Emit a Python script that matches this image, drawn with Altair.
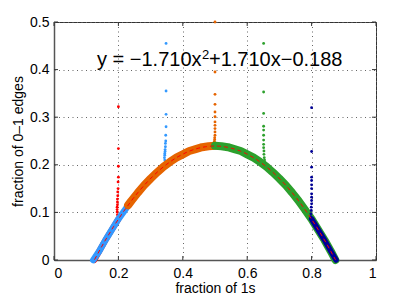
import altair as alt
import pandas as pd

# ---- data ----
X_TICKS = [0, 0.2, 0.4, 0.6, 0.8, 1]
Y_TICKS = [0, 0.1, 0.2, 0.3, 0.4, 0.5]
EQ_PARTS = ["y = \u22121.710x", "2", "+1.710x\u22120.188"]

SERIES = ["red", "lightblue", "orange", "green", "darkblue"]
COLORS = ["#ff0000", "#3399ff", "#e66400", "#2ca02c", "#000096"]
BAND_WIDTH = [6, 6.5, 8, 8, 5.5]

# dense bands of points lying along the curve
band_x = {
    "red": [0.125, 0.14, 0.16, 0.18, 0.20],
    "lightblue": [0.122, 0.14, 0.16, 0.18, 0.20, 0.22, 0.24, 0.26, 0.28, 0.30, 0.32, 0.34, 0.35],
    "orange": [0.23, 0.24, 0.26, 0.28, 0.30, 0.32, 0.34, 0.36, 0.38, 0.40, 0.42, 0.44, 0.46, 0.48, 0.50],
    "green": [0.50, 0.52, 0.54, 0.56, 0.58, 0.60, 0.62, 0.64, 0.66, 0.68, 0.70, 0.72, 0.74,
              0.76, 0.78, 0.80, 0.82, 0.84, 0.86, 0.874],
    "darkblue": [0.80, 0.82, 0.84, 0.86, 0.876],
}
band_y = {
    "red": [0.0, 0.018, 0.042, 0.064, 0.086],
    "lightblue": [0.0, 0.018, 0.042, 0.064, 0.086, 0.105, 0.124, 0.141, 0.157, 0.171, 0.184, 0.196, 0.201],
    "orange": [0.115, 0.124, 0.141, 0.157, 0.171, 0.184, 0.196, 0.206, 0.215, 0.222, 0.229, 0.233,
               0.237, 0.239, 0.240],
    "green": [0.240, 0.239, 0.237, 0.233, 0.229, 0.222, 0.215, 0.206, 0.196, 0.184, 0.171, 0.157,
              0.141, 0.124, 0.105, 0.086, 0.064, 0.042, 0.018, 0.0],
    "darkblue": [0.086, 0.064, 0.042, 0.018, 0.0],
}

# vertical spikes of points
spike_x = {
    "red": [0.199, 0.197, 0.196, 0.196, 0.196, 0.197, 0.197, 0.197, 0.198, 0.198, 0.199, 0.199,
            0.200, 0.200, 0.200, 0.200],
    "lightblue": [0.346, 0.344, 0.343, 0.344, 0.344, 0.345, 0.345, 0.346, 0.346, 0.347, 0.347,
                  0.348, 0.348, 0.348, 0.348],
    "orange": [0.497, 0.498, 0.499, 0.499, 0.500, 0.500, 0.500, 0.500, 0.500, 0.500, 0.500,
               0.500, 0.500, 0.500, 0.500],
    "green": [0.655, 0.654, 0.653, 0.652, 0.652, 0.651, 0.651, 0.651, 0.651, 0.651, 0.651,
              0.651, 0.651, 0.651],
    "darkblue": [0.798, 0.798, 0.799, 0.799, 0.800, 0.800, 0.800, 0.800, 0.800, 0.800, 0.800,
                 0.800, 0.800, 0.800, 0.800],
}
spike_y = {
    "red": [0.090, 0.095, 0.101, 0.106, 0.111, 0.116, 0.122, 0.128, 0.135, 0.143, 0.150, 0.164,
            0.174, 0.197, 0.234, 0.322],
    "lightblue": [0.205, 0.210, 0.215, 0.220, 0.224, 0.228, 0.232, 0.238, 0.245, 0.250, 0.262,
                  0.280, 0.306, 0.355, 0.455],
    "orange": [0.245, 0.249, 0.253, 0.257, 0.262, 0.269, 0.276, 0.283, 0.290, 0.301, 0.311,
               0.327, 0.348, 0.395, 0.500],
    "green": [0.205, 0.210, 0.215, 0.222, 0.229, 0.236, 0.243, 0.252, 0.262, 0.273, 0.281,
              0.308, 0.353, 0.455],
    "darkblue": [0.091, 0.097, 0.104, 0.111, 0.118, 0.125, 0.132, 0.139, 0.150, 0.158, 0.167,
                 0.174, 0.195, 0.228, 0.320],
}

# ---- tables ----
band_df = pd.concat(
    [pd.DataFrame({"x": band_x[s], "y": band_y[s], "series": s}) for s in SERIES],
    ignore_index=True,
)
xt_df = pd.DataFrame({"x": X_TICKS})
yt_df = pd.DataFrame({"y": Y_TICKS})

W, H = 322, 238
FONT = "Liberation Sans"
GRID = dict(grid=True, gridDash=[1, 3.5], gridColor="#666", gridWidth=1)

X_ENC = alt.X(
    "x:Q",
    scale=alt.Scale(domain=[0, 1], nice=False, zero=False),
    axis=alt.Axis(
        values=X_TICKS, format="~g", title="fraction of 1s", **GRID,
        ticks=False, tickSize=0, labelPadding=6,
        domainColor="#555", domainWidth=1.5,
        labelFont=FONT, labelFontSize=14, labelColor="#000",
        titleFont=FONT, titleFontSize=14, titleFontWeight="normal", titleColor="#000",
        titleX=W / 2, titleY=32, titleBaseline="alphabetic", titleAlign="center",
    ),
)
Y_ENC = alt.Y(
    "y:Q",
    scale=alt.Scale(domain=[0, 0.5], nice=False, zero=False),
    axis=alt.Axis(
        values=Y_TICKS, format="~g", title="fraction of 0\u20131 edges", **GRID,
        ticks=False, tickSize=0, labelPadding=5,
        domainColor="#555", domainWidth=1.5,
        labelFont=FONT, labelFontSize=14, labelColor="#000",
        titleFont=FONT, titleFontSize=14, titleFontWeight="normal", titleColor="#000",
        titleX=-31.5, titleY=H / 2, titleAngle=270, titleBaseline="alphabetic",
        titleAlign="center",
    ),
)

layers = []
for s, c, bw in zip(SERIES, COLORS, BAND_WIDTH):
    bdf = pd.DataFrame({"x": band_x[s], "y": band_y[s]})
    sdf = pd.DataFrame({"x": spike_x[s], "y": spike_y[s]})
    layers.append(
        alt.Chart(bdf).mark_line(color=c, strokeWidth=bw, strokeCap="round", strokeJoin="round")
        .encode(x=X_ENC, y=Y_ENC)
    )
    layers.append(
        alt.Chart(sdf).mark_circle(color=c, size=8, opacity=1)
        .encode(x=X_ENC, y=Y_ENC)
    )

fit = (
    alt.Chart(band_df)
    .transform_regression("x", "y", method="poly", order=2, extent=[0.1258, 0.8742])
    .mark_line(color="#ff0000", strokeWidth=1, strokeDash=[4, 3], clip=True)
    .encode(x=X_ENC, y=Y_ENC)
)
layers.append(fit)

# inward tick marks on all four sides
tick_len = 4
layers += [
    alt.Chart(xt_df).mark_rule(color="#333", strokeWidth=1)
    .encode(x=X_ENC, y=alt.value(H), y2=alt.value(H - tick_len)),
    alt.Chart(xt_df).mark_rule(color="#333", strokeWidth=1)
    .encode(x=X_ENC, y=alt.value(0), y2=alt.value(tick_len)),
    alt.Chart(yt_df).mark_rule(color="#333", strokeWidth=1)
    .encode(y=Y_ENC, x=alt.value(0), x2=alt.value(tick_len)),
    alt.Chart(yt_df).mark_rule(color="#333", strokeWidth=1)
    .encode(y=Y_ENC, x=alt.value(W), x2=alt.value(W - tick_len)),
]

# fitted equation, with a raised exponent
eq_pos = [(43, 44, 20), (148, 37, 13), (155, 44, 20)]
for part, (px, py, fs) in zip(EQ_PARTS, eq_pos):
    layers.append(
        alt.Chart(pd.DataFrame({"t": [part]}))
        .mark_text(font=FONT, fontSize=fs, align="left", baseline="alphabetic", color="#000")
        .encode(x=alt.value(px), y=alt.value(py), text="t:N")
    )

chart = (
    alt.layer(*layers)
    .properties(
        width=W, height=H,
        padding={"left": 46, "top": 14, "right": 30, "bottom": 37},
        autosize=alt.AutoSizeParams(type="none"),
        background="#ffffff",
    )
    .configure_view(stroke="#333", strokeWidth=1)
)

chart.save("out.html", embed_options={"renderer": "svg", "actions": False})
